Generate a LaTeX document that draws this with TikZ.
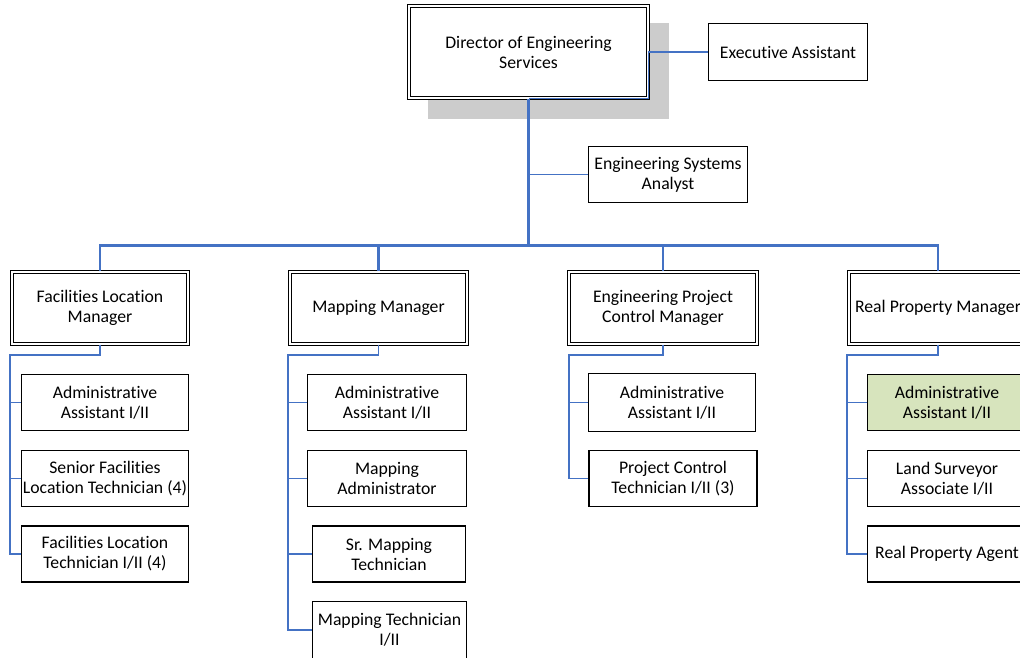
\documentclass[tikz,border=0pt]{standalone}
\usepackage{fontspec}
\setmainfont{Carlito}[Ligatures=NoCommon]
\definecolor{linkblue}{HTML}{4472C4}
\definecolor{shadowgray}{HTML}{CCCCCC}
\definecolor{softgreen}{HTML}{D7E4BD}
\begin{document}
\begin{tikzpicture}[x=1pt,y=-1pt,
  box/.style={draw=black,line width=1.3pt,fill=white,inner sep=0pt,align=center,
    font=\fontsize{17.7}{20}\selectfont},
  mgr/.style={box,double,double distance=1.6pt,line width=1.2pt},
  kid/.style={box,minimum height=56},
  link/.style={draw=linkblue,line width=1.5pt},
  trunk/.style={link,line width=2.2pt}]
\useasboundingbox (0,0) rectangle (1020,658);

% drop shadow behind the director box
\fill[shadowgray] (428,23) rectangle (669,119);

% top level
\node[mgr,minimum width=239,minimum height=92] (dir) at (528.5,52) {Director of Engineering\\Services};
\node[box,minimum width=159,minimum height=57] (exec) at (788,52) {Executive Assistant};
\node[box,minimum width=159,minimum height=56] (esa) at (668,174.5) {Engineering Systems\\Analyst};

% managers
\node[mgr,minimum width=176,minimum height=72] (flm) at (100,308) {Facilities Location\\Manager};
\node[mgr,minimum width=177,minimum height=72] (mm) at (378.5,308) {Mapping Manager};
\node[mgr,minimum width=188,minimum height=72] (epcm) at (663,308) {Engineering Project\\Control Manager};
\node[mgr,minimum width=178,minimum height=72] (rpm) at (938,308) {Real Property Manager};

% facilities location staff
\node[kid,minimum width=167] (fa1) at (105,402.5) {Administrative\\Assistant I/II};
\node[kid,minimum width=167] (fa2) at (105,478.5) {Senior Facilities\\Location Technician (4)};
\node[kid,minimum width=167] (fa3) at (105,554) {Facilities Location\\Technician I/II (4)};

% mapping staff
\node[kid,minimum width=159] (ma1) at (387,402.5) {Administrative\\Assistant I/II};
\node[kid,minimum width=159] (ma2) at (387,478.5) {Mapping\\Administrator};
\node[kid,minimum width=153] (ma3) at (389,554) {Sr. Mapping\\Technician};
\node[kid,minimum width=154,minimum height=57] (ma4) at (389.5,630) {Mapping Technician\\I/II};

% project control staff
\node[kid,minimum width=167,minimum height=58] (ea1) at (672,402.5) {Administrative\\Assistant I/II};
\node[kid,minimum width=168] (ea2) at (673,478.5) {Project Control\\Technician I/II (3)};

% real property staff
\node[kid,minimum width=159,fill=softgreen] (ra1) at (947,402.5) {Administrative\\Assistant I/II};
\node[kid,minimum width=159] (ra2) at (947,478.5) {Land Surveyor\\Associate I/II};
\node[kid,minimum width=159] (ra3) at (947,554) {Real Property Agent};

% connectors
\coordinate (bus) at (528.5,245.5);
\draw[link] (exec.west) -- (exec.west -| dir.east) |- (dir.south);
\draw[trunk] (dir.south) -- (bus);
\draw[link] (esa.west) -- (esa.west -| dir.south);
\draw[trunk] (flm.north) |- (bus);
\draw[trunk] (mm.north) |- (bus);
\draw[trunk] (epcm.north) |- (bus);
\draw[trunk] (rpm.north) |- (bus);

\coordinate (flr) at (10,355);
\coordinate (mmr) at (288,355);
\coordinate (epr) at (569,355);
\coordinate (rpr) at (847,355);
\draw[link] (flm.south) |- (flr) |- (fa3.west);
\draw[link] (flr) |- (fa1.west);
\draw[link] (flr) |- (fa2.west);
\draw[link] (mm.south) |- (mmr) |- (ma4.west);
\draw[link] (mmr) |- (ma1.west);
\draw[link] (mmr) |- (ma2.west);
\draw[link] (mmr) |- (ma3.west);
\draw[link] (epcm.south) |- (epr) |- (ea2.west);
\draw[link] (epr) |- (ea1.west);
\draw[link] (rpm.south) |- (rpr) |- (ra3.west);
\draw[link] (rpr) |- (ra1.west);
\draw[link] (rpr) |- (ra2.west);
\end{tikzpicture}
\end{document}
